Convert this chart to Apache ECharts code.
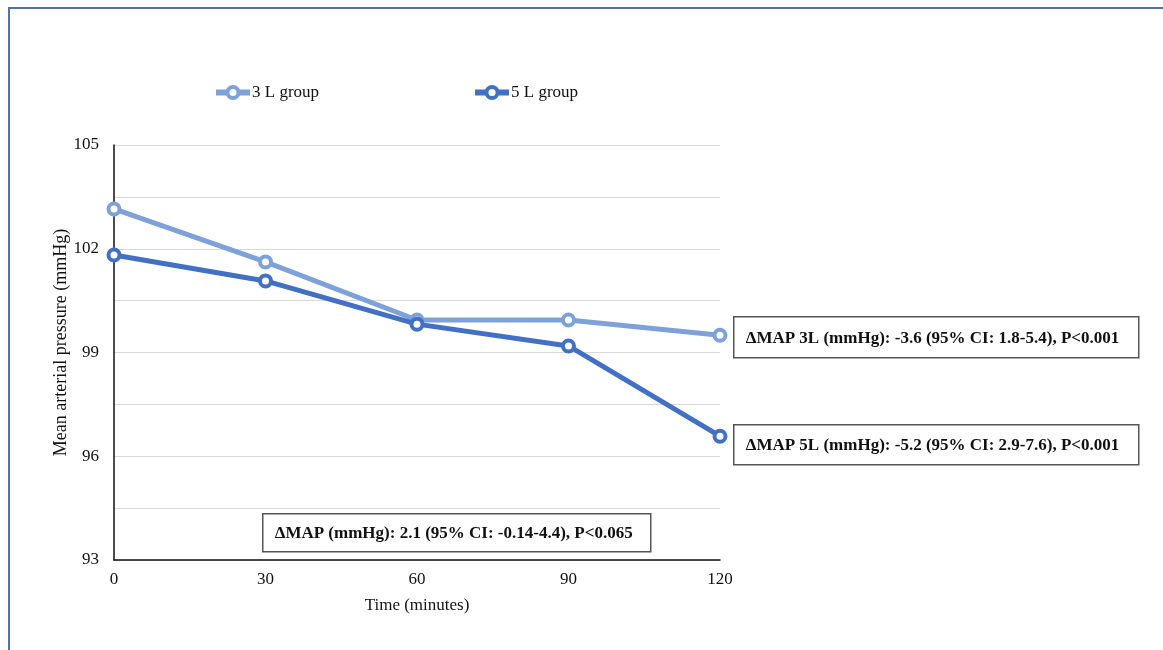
<!DOCTYPE html>
<html><head><meta charset="utf-8">
<script src="https://cdn.jsdelivr.net/npm/echarts@6/dist/echarts.min.js"></script>
<style>
html,body{margin:0;padding:0;background:#fff;}
#frame{position:absolute;left:8px;top:7px;width:1200px;height:700px;border-top:2px solid #5470a8;border-left:2px solid #5470a8;}
#c{position:absolute;left:0;top:0;width:1163px;height:650px;}
</style></head>
<body>
<div id="frame"></div>
<div id="c"></div>
<script>
const times = [0, 30, 60, 90, 120];
const group3L = [103.15, 101.62, 99.94, 99.94, 99.5];
const group5L = [101.82, 101.07, 99.82, 99.19, 96.58];
const seriesNames = ['3 L group', '5 L group'];
const annotations = [
  'ΔMAP 3L (mmHg): -3.6 (95% CI: 1.8-5.4), P<0.001',
  'ΔMAP 5L (mmHg): -5.2 (95% CI: 2.9-7.6), P<0.001',
  'ΔMAP (mmHg): 2.1 (95% CI: -0.14-4.4), P<0.065'
];
const font = 'Liberation Serif, Times New Roman, serif';
const chart = echarts.init(document.getElementById('c'));
function boxText(x, y, w, h, txt) {
  return {
    type: 'group', left: x, top: y, children: [
      {type: 'rect', shape: {x: 0, y: 0, width: w, height: h}, style: {fill: '#fff', stroke: '#555', lineWidth: 1.5}},
      {type: 'text', x: 12, y: h / 2 + 1, style: {text: txt, fontFamily: font, fontWeight: 'bold', fontSize: 17, fill: '#111', verticalAlign: 'middle'}}
    ]
  };
}
function mk(name, data, color) {
  return {
    name: name, type: 'line', data: times.map((t, i) => [t, data[i]]),
    symbol: 'circle', symbolSize: 11,
    lineStyle: {color: color, width: 5},
    itemStyle: {color: '#fff', borderColor: color, borderWidth: 4},
    z: name === seriesNames[1] ? 3 : 2
  };
}
chart.setOption({
  animation: false,
  backgroundColor: 'transparent',
  legend: {
    left: 208, top: 79, itemGap: 153, itemWidth: 34, itemHeight: 14,
    lineStyle: {width: 6},
    itemStyle: {borderWidth: 4},
    textStyle: {fontFamily: font, fontSize: 17, color: '#111', padding: [0, 0, 0, -3]},
    data: seriesNames
  },
  grid: {left: 114, right: 443, top: 145, bottom: 90},
  xAxis: {
    type: 'value', min: 0, max: 120, interval: 30,
    name: 'Time (minutes)', nameLocation: 'middle', nameGap: 37,
    nameTextStyle: {fontFamily: font, fontSize: 17, color: '#111'},
    axisLine: {show: true, lineStyle: {color: '#111', width: 1.5}},
    axisTick: {show: false},
    splitLine: {show: false},
    axisLabel: {fontFamily: font, fontSize: 17, color: '#111', margin: 11}
  },
  yAxis: {
    type: 'value', min: 93, max: 105, interval: 1.5,
    name: 'Mean arterial pressure (mmHg)', nameLocation: 'middle', nameGap: 44,
    nameMoveOverlap: false,
    nameTextStyle: {fontFamily: font, fontSize: 18, color: '#111', padding: [0, 0, 0, 20]},
    axisLine: {show: true, lineStyle: {color: '#111', width: 1.5}},
    axisTick: {show: false},
    splitLine: {show: true, lineStyle: {color: '#d9d9d9', width: 1}},
    axisLabel: {fontFamily: font, fontSize: 17, color: '#111', margin: 15,
      formatter: v => (Math.abs(v % 3) < 1e-9 ? String(v) : '')}
  },
  series: [mk(seriesNames[0], group3L, '#7fa1da'), mk(seriesNames[1], group5L, '#4170c4')],
  graphic: [
    boxText(733, 316, 405, 41, annotations[0]),
    boxText(733, 424, 405, 40, annotations[1]),
    boxText(262, 513, 388, 38, annotations[2])
  ]
});
</script>
</body></html>
